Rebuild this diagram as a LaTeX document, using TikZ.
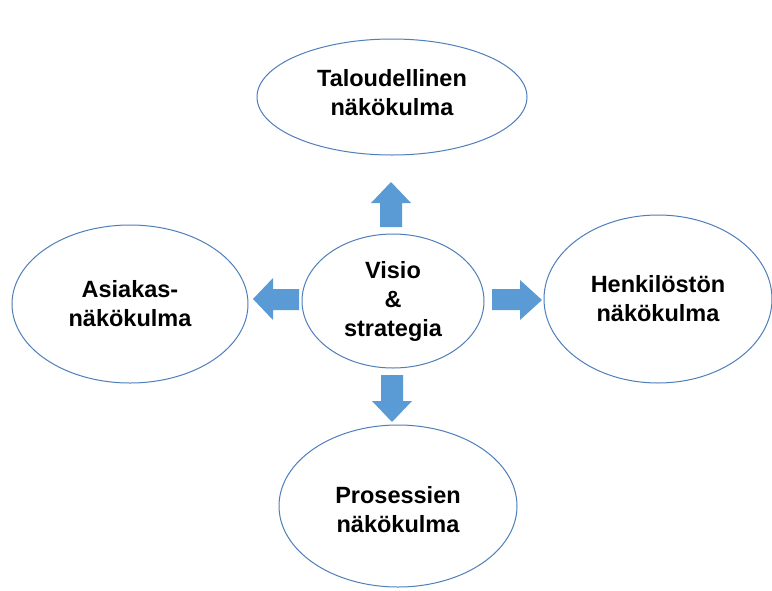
\documentclass[tikz,border=0pt]{standalone}
\usepackage{fontspec}
\setmainfont{Liberation Sans}
\usetikzlibrary{shapes.geometric}
\definecolor{ellline}{HTML}{4F7FBA}
\definecolor{arrfill}{HTML}{5B9BD5}
\tikzset{
  view/.style={draw=ellline, line width=1pt, fill=white, ellipse, inner sep=0pt,
    align=center, font=\fontsize{23.5}{29}\selectfont\bfseries},
  blockarrow/.style={fill=arrfill, draw=none}
}
\begin{document}
\begin{tikzpicture}[x=1pt,y=-1pt]
\useasboundingbox[fill=white] (0,0) rectangle (772,590);
\node[view, minimum width=270pt, minimum height=116pt] (top) at (392,97) {};
\node[font=\fontsize{23.5}{29}\selectfont\bfseries, align=center] (toptext) at (392,93) {Taloudellinen\\näkökulma};
\node[view, minimum width=236pt, minimum height=158pt] (left) at (130,304) {Asiakas-\\näkökulma};
\node[view, minimum width=182pt, minimum height=134pt] (center) at (393,301) {Visio\\\&\\strategia};
\node[view, minimum width=228pt, minimum height=168pt] (right) at (658,299) {Henkilöstön\\näkökulma};
\node[view, minimum width=238pt, minimum height=162pt] (bottom) at (398,506) {};
\node[font=\fontsize{23.5}{29}\selectfont\bfseries, align=center] (bottomtext) at (398,510) {Prosessien\\näkökulma};
% up arrow
\fill[blockarrow] (380,227) -- (380,203) -- (371,203) -- (391,182) -- (411,203) -- (402,203) -- (402,227) -- cycle;
% left arrow
\fill[blockarrow] (299,289) -- (273,289) -- (273,278) -- (253,299) -- (273,320) -- (273,310) -- (299,310) -- cycle;
% right arrow
\fill[blockarrow] (492,289) -- (520,289) -- (520,280) -- (542,300) -- (520,320) -- (520,310) -- (492,310) -- cycle;
% down arrow
\fill[blockarrow] (381,375) -- (381,401) -- (372,401) -- (392,422) -- (412,401) -- (403,401) -- (403,375) -- cycle;
\end{tikzpicture}
\end{document}
